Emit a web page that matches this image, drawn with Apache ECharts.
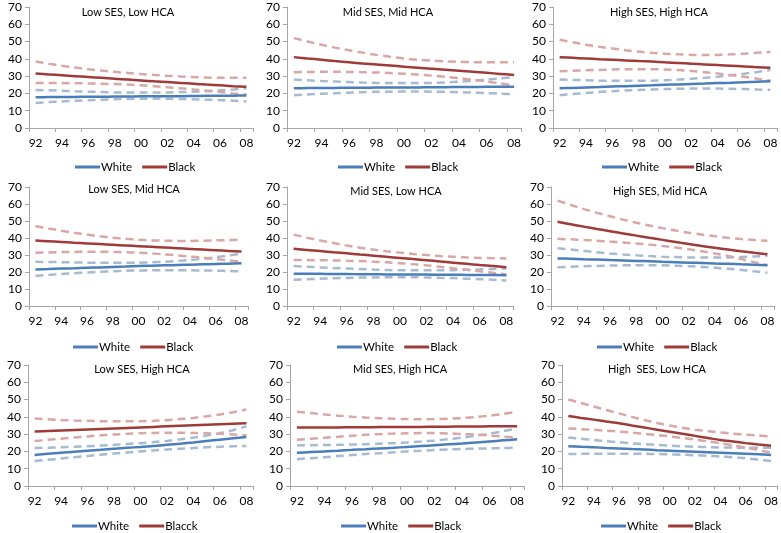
<!DOCTYPE html>
<html>
<head>
<meta charset="utf-8">
<script src="https://cdn.jsdelivr.net/npm/echarts@6/dist/echarts.min.js"></script>
<style>
html,body{margin:0;padding:0;background:#fff;}
#chart{width:781px;height:533px;}
</style>
</head>
<body>
<div id="chart"></div>
<script>
const years = ['92','93','94','95','96','97','98','99','00','01','02','03','04','05','06','07','08'];
const panelTitles = ['Low SES, Low HCA','Mid SES, Mid HCA','High SES, High HCA',
                     'Low SES, Mid HCA','Mid SES, Low HCA','High SES, Mid HCA',
                     'Low SES, High HCA','Mid SES, High HCA','High  SES, Low HCA'];
const whiteName = 'White';
const blackNames = ['Black','Black','Black','Black','Black','Black','Blacck','Black','Black'];
const yTicks = [0,10,20,30,40,50,60,70];

// Panel 1: Low SES, Low HCA
const p1White      = [17.8,17.9,18.0,18.0,18.1,18.1,18.2,18.2,18.3,18.3,18.4,18.4,18.5,18.6,18.6,18.7,18.8];
const p1WhiteUpper = [22.0,21.8,21.5,21.2,21.0,20.8,20.6,20.5,20.5,20.5,20.6,20.8,21.0,21.3,21.8,22.3,23.0];
const p1WhiteLower = [14.5,15.0,15.4,15.8,16.1,16.4,16.6,16.8,16.9,17.0,16.9,16.8,16.6,16.4,16.1,15.8,15.4];
const p1Black      = [31.5,31.0,30.5,30.0,29.5,29.0,28.5,28.0,27.5,27.0,26.6,26.1,25.6,25.1,24.7,24.2,23.8];
const p1BlackUpper = [38.5,37.2,36.0,35.0,34.0,33.2,32.5,31.8,31.2,30.7,30.2,29.8,29.5,29.2,29.0,29.0,29.0];
const p1BlackLower = [26.0,26.0,26.0,25.9,25.8,25.6,25.4,25.1,24.7,24.2,23.6,23.0,22.3,21.6,20.8,20.0,19.4];

// Panel 2: Mid SES, Mid HCA
const p2White      = [23.0,23.1,23.2,23.2,23.3,23.3,23.4,23.4,23.5,23.5,23.6,23.6,23.7,23.7,23.8,23.8,23.9];
const p2WhiteUpper = [28.0,27.6,27.2,26.9,26.6,26.3,26.1,26.0,26.0,26.0,26.1,26.4,26.8,27.3,28.0,28.7,29.5];
const p2WhiteLower = [19.0,19.4,19.8,20.1,20.4,20.7,20.9,21.0,21.1,21.1,21.0,20.9,20.7,20.5,20.2,19.9,19.5];
const p2Black      = [41.0,40.2,39.5,38.7,38.0,37.3,36.7,36.1,35.5,34.9,34.3,33.7,33.1,32.5,31.9,31.3,30.7];
const p2BlackUpper = [52.0,50.0,48.2,46.5,45.0,43.6,42.3,41.2,40.2,39.5,39.0,38.6,38.3,38.1,38.0,38.0,38.0];
const p2BlackLower = [32.3,32.4,32.5,32.5,32.4,32.3,32.1,31.8,31.4,30.9,30.3,29.6,28.8,27.9,26.9,25.8,24.7];

// Panel 3: High SES, High HCA
const p3White      = [23.0,23.2,23.5,23.7,24.0,24.2,24.5,24.7,25.0,25.2,25.5,25.7,26.0,26.2,26.5,26.8,27.0];
const p3WhiteUpper = [28.0,27.8,27.6,27.4,27.3,27.3,27.3,27.4,27.6,28.0,28.5,29.0,29.7,30.5,31.4,32.4,33.5];
const p3WhiteLower = [19.0,19.6,20.2,20.8,21.3,21.7,22.0,22.3,22.5,22.7,22.8,22.8,22.8,22.7,22.5,22.3,22.0];
const p3Black      = [41.0,40.6,40.2,39.8,39.5,39.1,38.7,38.4,38.0,37.6,37.2,36.8,36.4,36.0,35.6,35.2,34.8];
const p3BlackUpper = [51.0,49.6,48.2,47.0,46.0,45.0,44.2,43.5,43.0,42.6,42.3,42.2,42.3,42.6,43.0,43.5,44.0];
const p3BlackLower = [32.8,33.1,33.4,33.6,33.8,34.0,34.0,34.0,33.8,33.5,33.0,32.3,31.5,30.6,29.6,28.5,27.4];

// Panel 4: Low SES, Mid HCA
const p4White      = [21.5,21.7,22.0,22.2,22.5,22.7,23.0,23.2,23.5,23.7,23.9,24.1,24.3,24.5,24.7,24.9,25.1];
const p4WhiteUpper = [26.0,25.9,25.8,25.6,25.5,25.4,25.4,25.4,25.5,25.7,26.0,26.5,27.0,27.8,28.7,29.7,30.8];
const p4WhiteLower = [17.7,18.3,18.8,19.3,19.7,20.1,20.4,20.7,20.9,21.0,21.1,21.1,21.0,20.9,20.8,20.6,20.4];
const p4Black      = [38.5,38.1,37.7,37.2,36.8,36.4,36.0,35.6,35.2,34.8,34.4,34.0,33.6,33.2,32.8,32.4,32.0];
const p4BlackUpper = [47.0,45.6,44.3,43.1,42.0,41.0,40.2,39.5,39.0,38.6,38.4,38.3,38.3,38.4,38.6,38.8,39.0];
const p4BlackLower = [31.3,31.5,31.7,31.8,31.9,31.9,31.8,31.6,31.3,30.9,30.4,29.8,29.1,28.4,27.6,26.8,26.0];

// Panel 5: Mid SES, Low HCA
const p5White      = [19.0,18.9,18.9,18.8,18.8,18.7,18.7,18.6,18.6,18.5,18.5,18.4,18.4,18.3,18.2,18.2,18.1];
const p5WhiteUpper = [23.5,23.1,22.7,22.3,22.0,21.7,21.4,21.2,21.0,21.0,21.0,21.0,21.1,21.3,21.5,21.8,22.1];
const p5WhiteLower = [15.4,15.7,16.0,16.3,16.5,16.7,16.8,16.9,16.9,16.9,16.8,16.6,16.4,16.1,15.8,15.4,15.0];
const p5Black      = [33.7,33.0,32.3,31.6,31.0,30.3,29.6,28.9,28.3,27.6,26.9,26.2,25.5,24.8,24.1,23.5,22.8];
const p5BlackUpper = [42.0,40.2,38.5,37.0,35.6,34.3,33.2,32.2,31.4,30.6,30.0,29.4,29.0,28.6,28.3,28.1,28.0];
const p5BlackLower = [27.0,27.0,26.9,26.8,26.6,26.4,26.1,25.7,25.2,24.6,23.9,23.1,22.2,21.3,20.4,19.5,18.5];

// Panel 6: High SES, Mid HCA
const p6White      = [28.0,27.8,27.5,27.3,27.0,26.8,26.5,26.3,26.0,25.8,25.5,25.3,25.0,24.8,24.5,24.3,24.0];
const p6WhiteUpper = [34.0,33.2,32.4,31.6,30.9,30.3,29.8,29.4,29.0,28.8,28.6,28.5,28.5,28.6,28.8,29.1,29.5];
const p6WhiteLower = [22.8,23.1,23.4,23.6,23.8,23.9,24.0,24.0,23.9,23.7,23.4,23.0,22.5,21.9,21.2,20.4,19.6];
const p6Black      = [49.5,48.1,46.7,45.3,44.0,42.7,41.4,40.1,38.9,37.7,36.5,35.3,34.2,33.2,32.2,31.3,30.5];
const p6BlackUpper = [62.0,59.5,57.0,54.8,52.8,50.8,49.0,47.3,45.8,44.4,43.1,42.0,41.0,40.1,39.4,38.8,38.4];
const p6BlackLower = [39.5,39.2,38.8,38.4,37.9,37.4,36.8,36.1,35.3,34.4,33.4,32.2,30.9,29.5,27.6,25.8,24.0];

// Panel 7: Low SES, High HCA
const p7White      = [18.0,18.6,19.2,19.8,20.4,21.0,21.6,22.1,22.6,23.2,23.8,24.5,25.2,26.0,26.8,27.6,28.4];
const p7WhiteUpper = [22.0,22.2,22.4,22.7,23.0,23.4,23.8,24.3,24.8,25.4,26.1,27.0,28.0,29.2,30.6,32.3,34.5];
const p7WhiteLower = [14.5,15.2,15.9,16.7,17.4,18.1,18.8,19.4,20.0,20.6,21.1,21.6,22.0,22.4,22.7,23.0,23.2];
const p7Black      = [31.5,31.8,32.1,32.4,32.7,33.0,33.3,33.6,33.9,34.2,34.5,34.8,35.1,35.4,35.7,36.0,36.3];
const p7BlackUpper = [39.0,38.6,38.2,37.9,37.7,37.5,37.4,37.4,37.5,37.7,38.1,38.7,39.4,40.3,41.4,42.7,44.2];
const p7BlackLower = [26.0,26.7,27.4,28.1,28.7,29.3,29.8,30.2,30.5,30.7,30.8,30.8,30.7,30.5,30.2,29.8,29.3];

// Panel 8: Mid SES, High HCA
const p8White      = [19.2,19.6,20.0,20.4,20.9,21.3,21.7,22.1,22.6,23.1,23.6,24.1,24.6,25.2,25.8,26.4,27.0];
const p8WhiteUpper = [23.5,23.6,23.7,23.8,24.0,24.2,24.5,24.8,25.2,25.7,26.3,27.1,28.0,29.1,30.3,31.7,33.3];
const p8WhiteLower = [15.5,16.1,16.7,17.3,17.9,18.5,19.0,19.5,20.0,20.4,20.8,21.1,21.4,21.6,21.8,22.0,22.1];
const p8Black      = [33.8,33.8,33.9,33.9,34.0,34.0,34.1,34.1,34.2,34.2,34.3,34.3,34.4,34.4,34.5,34.5,34.6];
const p8BlackUpper = [43.0,42.2,41.4,40.7,40.1,39.6,39.2,38.9,38.7,38.6,38.7,38.9,39.3,39.9,40.7,41.7,43.0];
const p8BlackLower = [26.7,27.3,27.9,28.5,29.1,29.6,30.0,30.3,30.5,30.6,30.6,30.4,30.1,29.7,29.2,28.6,28.0];

// Panel 9: High SES, Low HCA
const p9White      = [23.0,22.7,22.4,22.0,21.7,21.4,21.1,20.7,20.4,20.1,19.8,19.5,19.2,18.9,18.6,18.3,18.0];
const p9WhiteUpper = [28.0,27.3,26.6,25.9,25.3,24.7,24.2,23.8,23.4,23.0,22.7,22.5,22.3,22.2,22.1,22.1,22.1];
const p9WhiteLower = [18.5,18.6,18.7,18.7,18.7,18.7,18.6,18.5,18.3,18.1,17.8,17.5,17.1,16.6,16.0,15.3,14.5];
const p9Black      = [40.5,39.4,38.4,37.3,36.3,35.0,33.8,32.6,31.4,30.2,29.0,27.8,26.6,25.7,24.8,24.0,23.3];
const p9BlackUpper = [50.0,48.0,46.0,44.0,42.0,40.0,38.2,36.5,35.0,33.7,32.6,31.7,31.0,30.3,29.7,29.2,28.7];
const p9BlackLower = [33.3,32.9,32.5,32.0,31.5,30.9,30.2,29.5,28.7,27.8,26.8,25.8,24.7,23.5,22.2,20.8,19.3];

const panelData = [
  [p1White,p1WhiteUpper,p1WhiteLower,p1Black,p1BlackUpper,p1BlackLower],
  [p2White,p2WhiteUpper,p2WhiteLower,p2Black,p2BlackUpper,p2BlackLower],
  [p3White,p3WhiteUpper,p3WhiteLower,p3Black,p3BlackUpper,p3BlackLower],
  [p4White,p4WhiteUpper,p4WhiteLower,p4Black,p4BlackUpper,p4BlackLower],
  [p5White,p5WhiteUpper,p5WhiteLower,p5Black,p5BlackUpper,p5BlackLower],
  [p6White,p6WhiteUpper,p6WhiteLower,p6Black,p6BlackUpper,p6BlackLower],
  [p7White,p7WhiteUpper,p7WhiteLower,p7Black,p7BlackUpper,p7BlackLower],
  [p8White,p8WhiteUpper,p8WhiteLower,p8Black,p8BlackUpper,p8BlackLower],
  [p9White,p9WhiteUpper,p9WhiteLower,p9Black,p9BlackUpper,p9BlackLower]
];

// layout (pixels)
const grids = [
  {left:29, top:7,   width:224, height:121},
  {left:287,top:7,   width:234, height:121},
  {left:553,top:7,   width:224, height:121},
  {left:29, top:187, width:219, height:119},
  {left:287,top:187, width:226, height:119},
  {left:551,top:187, width:223, height:119},
  {left:28, top:365, width:225, height:121},
  {left:290,top:365, width:234, height:121},
  {left:562,top:365, width:217, height:121}
];
const titlePos = [
  {x:128,y:7},{x:388,y:7},{x:659,y:7},
  {x:134,y:184},{x:396,y:186},{x:660,y:186},
  {x:142,y:364},{x:400,y:364},{x:657,y:364}
];
const legendPos = [
  {x:75,y:161},{x:338,y:161},{x:602,y:161},
  {x:73,y:341},{x:337,y:341},{x:597,y:341},
  {x:72,y:520},{x:341,y:520},{x:601,y:520}
];

const FONT = 'Lato';
const blue = '#4A7EBB', red = '#9E3B39';
const blueLight = '#A7BAD2', redLight = '#D8A7A6';

const option = {
  animation:false,
  backgroundColor:'#fff',
  textStyle:{fontFamily:FONT},
  title:[], legend:[], grid:[], xAxis:[], yAxis:[], series:[]
};

panelTitles.forEach((t,i)=>{
  const g = grids[i];
  option.grid.push({left:g.left, top:g.top, width:g.width, height:g.height, containLabel:false});
  option.title.push({text:t, left:titlePos[i].x, top:titlePos[i].y, textAlign:'center', padding:0,
    textStyle:{fontFamily:FONT, fontSize:11, fontWeight:'normal', color:'#000'}});
  option.legend.push({left:legendPos[i].x, top:legendPos[i].y, padding:0, itemGap:10,
    itemWidth:25, itemHeight:3, icon:'rect', selectedMode:false,
    data:[whiteName, blackNames[i]],
    textStyle:{fontFamily:FONT, fontSize:11.5, color:'#000', padding:[0,0,0,-4]}});
  option.xAxis.push({type:'category', gridIndex:i, data:years, boundaryGap:true,
    axisLine:{show:true, lineStyle:{color:'#A6A6A6', width:1}},
    axisTick:{show:true, interval:1, length:4, lineStyle:{color:'#A6A6A6'}},
    axisLabel:{interval:1, margin:9, fontFamily:FONT, fontSize:12, color:'#000'},
    splitLine:{show:false}});
  option.yAxis.push({type:'value', gridIndex:i, min:yTicks[0], max:yTicks[yTicks.length-1], interval:10,
    axisLine:{show:true, lineStyle:{color:'#A6A6A6', width:1}},
    axisTick:{show:true, length:4, lineStyle:{color:'#A6A6A6'}},
    axisLabel:{margin:7, fontFamily:FONT, fontSize:12, color:'#000'},
    splitLine:{show:false}});
  const d = panelData[i];
  const mk = (name,data,color,dashed,z)=>({
    type:'line', name:name, xAxisIndex:i, yAxisIndex:i, data:data, smooth:0.3,
    symbol:'none', color:color, z:z,
    lineStyle:{color:color, width:2.5, type: dashed ? [8,5] : 'solid'}
  });
  option.series.push(mk('White CI upper', d[1], blueLight, true, 2));
  option.series.push(mk('White CI lower', d[2], blueLight, true, 2));
  option.series.push(mk('Black CI upper', d[4], redLight, true, 2));
  option.series.push(mk('Black CI lower', d[5], redLight, true, 2));
  option.series.push(mk(whiteName, d[0], blue, false, 3));
  option.series.push(mk(blackNames[i], d[3], red, false, 3));
});

const chart = echarts.init(document.getElementById('chart'), null, {renderer:'canvas'});
chart.setOption(option);
</script>
</body>
</html>
